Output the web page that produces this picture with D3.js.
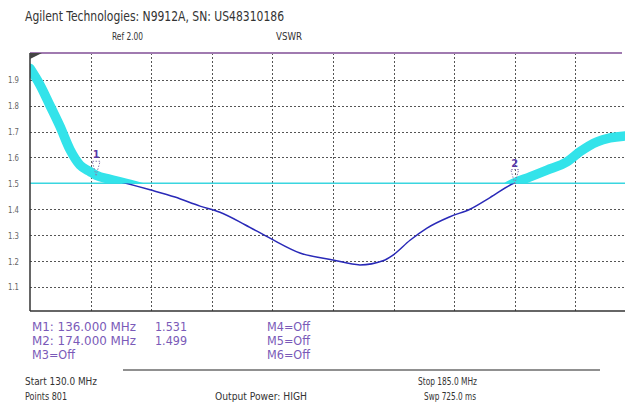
<!DOCTYPE html>
<html><head><meta charset="utf-8">
<script src="https://cdn.jsdelivr.net/npm/d3@7"></script>
<style>body{margin:0;background:#fff}svg{display:block}text{font-family:"DejaVu Sans Condensed","DejaVu Sans",sans-serif}</style>
</head><body><svg id="c" width="625" height="403"></svg>
<script>
// ---- data ----
const freqMHz = [130,130.91,131.82,132.72,133.63,134.54,135.45,136,137.26,138.71,140.89,143.16,145.43,147.24,149.51,151.78,154.5,157.5,159.95,162.04,162.95,164.49,166.03,168.12,169.93,171.75,173.84,175.38,176.92,178.74,179.92,181.46,182.64,183.82,185];
const vswr    = [1.944,1.88,1.80,1.72,1.63,1.57,1.545,1.531,1.515,1.50,1.475,1.447,1.412,1.388,1.34,1.288,1.231,1.204,1.185,1.201,1.223,1.28,1.327,1.371,1.40,1.445,1.499,1.525,1.551,1.583,1.622,1.66,1.675,1.682,1.684];
const yTicks = [1.1,1.2,1.3,1.4,1.5,1.6,1.7,1.8,1.9];
const xGrid = [135.5,141,146.5,152,157.5,163,168.5,174,179.5];
const limit = 1.5;
const markers = [{id:"1",f:136,v:1.531},{id:"2",f:174,v:1.499}];
const markerRows = [["M1:  136.000 MHz","1.531","M4=Off"],["M2:  174.000 MHz","1.499","M5=Off"],["M3=Off","","M6=Off"]];

(function(){
const svg = d3.select("#c");
const x = d3.scaleLinear().domain([130,185]).range([30,636]);
const y = d3.scaleLinear().domain([1.0,2.0]).range([312.8,53.8]);
const pTop=53, pBottom=311, pLeft=30, pRight=622;

function txt(s,xp,yp,size,color,len,anchor){
  const t=svg.append("text").attr("x",xp).attr("y",yp).attr("font-size",size).attr("fill",color).text(s);
  if(len) t.attr("textLength",len).attr("lengthAdjust","spacingAndGlyphs");
  if(anchor) t.attr("text-anchor",anchor);
  return t;
}
txt("Agilent Technologies: N9912A, SN: US48310186",25,21,13.5,"#333",259);
txt("Ref 2.00",112,40,10,"#333",31);
txt("VSWR",276,40,10,"#333",26);

svg.append("clipPath").attr("id","pc").append("rect").attr("x",pLeft).attr("y",pTop).attr("width",625-pLeft).attr("height",pBottom-pTop);
svg.append("clipPath").attr("id","above").append("rect").attr("x",pLeft).attr("y",pTop).attr("width",625-pLeft).attr("height",y(limit)-pTop);
svg.append("clipPath").attr("id","below").append("rect").attr("x",pLeft).attr("y",y(limit)).attr("width",625-pLeft).attr("height",pBottom-y(limit));

const g = svg.append("g").attr("clip-path","url(#pc)");
g.selectAll(".hg").data(yTicks).enter().append("line")
  .attr("x1",pLeft).attr("x2",625).attr("y1",d=>Math.round(y(d))+0.5).attr("y2",d=>Math.round(y(d))+0.5)
  .attr("stroke","#555").attr("stroke-width",1).attr("stroke-dasharray","2,2");
g.selectAll(".vg").data(xGrid).enter().append("line")
  .attr("y1",pTop).attr("y2",pBottom).attr("x1",d=>Math.round(x(d))+0.5).attr("x2",d=>Math.round(x(d))+0.5)
  .attr("stroke","#555").attr("stroke-width",1).attr("stroke-dasharray","2,2");

yTicks.forEach(t=>txt(t.toFixed(1),8,y(t)+3.5,9.5,"#666",11));

g.append("line").attr("x1",pLeft).attr("x2",625).attr("y1",y(limit)).attr("y2",y(limit)).attr("stroke","#3ad6e0").attr("stroke-width",1.5);

const pts = freqMHz.map((f,i)=>[f,vswr[i]]);
const line = d3.line().x(d=>x(d[0])).y(d=>y(d[1])).curve(d3.curveMonotoneX);
g.append("path").attr("d",line(pts)).attr("fill","none").attr("stroke","#2a2ab8").attr("stroke-width",1.5).attr("clip-path","url(#below)");
g.append("path").attr("d",line(pts)).attr("fill","none").attr("stroke","#33e3ea").attr("stroke-width",9.5).attr("stroke-linecap","round").attr("clip-path","url(#above)");

markers.forEach(m=>{
  const mx=x(m.f), my=y(m.v);
  g.append("path").attr("d",`M${mx},${my} L${mx-4},${my-14} L${mx+4},${my-14} Z`)
    .attr("fill","none").attr("stroke","#8a7ab0").attr("stroke-width",1).attr("stroke-dasharray","1.5,1.5");
  txt(m.id,mx,my-17,11,"#5a3aa8",null,"middle").attr("font-weight","bold");
});

svg.append("line").attr("x1",pLeft).attr("x2",pRight).attr("y1",pTop).attr("y2",pTop).attr("stroke","#a07ab0").attr("stroke-width",2);
svg.append("line").attr("x1",pLeft).attr("x2",pLeft).attr("y1",pTop).attr("y2",pBottom).attr("stroke","#333").attr("stroke-width",1.5);
svg.append("line").attr("x1",pLeft).attr("x2",625).attr("y1",pBottom).attr("y2",pBottom).attr("stroke","#333").attr("stroke-width",1.5);
svg.append("path").attr("d",`M${pLeft},${pTop} L${pLeft+12},${pTop} L${pLeft},${pTop+6} Z`).attr("fill","#444");

const mc="#7a5ab8";
markerRows.forEach((r,i)=>{
  const by=331+i*14;
  if(r[0]) txt(r[0],32,by,12,mc,r[0].startsWith("M3")?43:104);
  if(r[1]) txt(r[1],155,by,12,mc,32);
  if(r[2]) txt(r[2],267,by,12,mc,43);
});
svg.append("line").attr("x1",123).attr("x2",600).attr("y1",370).attr("y2",370).attr("stroke","#222").attr("stroke-width",1.2);

txt("Start 130.0 MHz",25,385,10,"#333",72);
txt("Points 801",25,400,10,"#333",42);
txt("Output Power: HIGH",215,400,10,"#333",92);
txt("Stop 185.0 MHz",418,385,10,"#333",59);
txt("Swp 725.0 ms",424,400,10,"#333",52);
})();
</script></body></html>
